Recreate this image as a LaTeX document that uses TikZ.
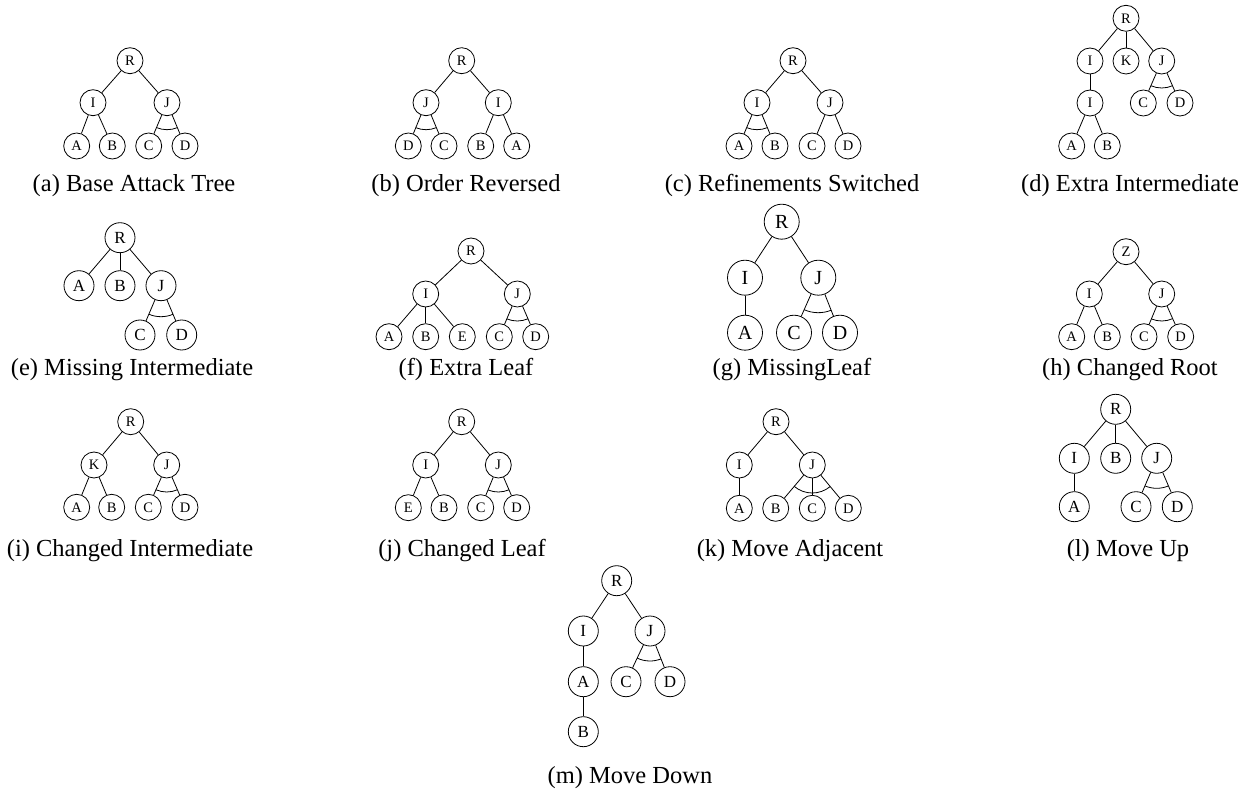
\documentclass[tikz,border=0pt]{standalone}
\usepackage{fontspec}
\setmainfont{Liberation Serif}
\usetikzlibrary{calc}
\tikzset{
  nd/.style={circle, draw, line width=0.8pt, inner sep=0pt, minimum size=26pt, font=\fontsize{14.5}{15}\selectfont},
  ndm/.style={nd, minimum size=30pt, font=\fontsize{17}{18}\selectfont},
  ndl/.style={nd, minimum size=35pt, font=\fontsize{20}{21}\selectfont},
  ln/.style={line width=0.8pt},
  captext/.style={anchor=base, inner sep=0pt, font=\fontsize{24.5}{26}\selectfont},
}
\newcommand\andarc[4]{%
  \draw[ln] let \p1=($(#2)-(#1)$), \p2=($(#3)-(#1)$),
    \n1={atan2(\y1,\x1)}, \n2={atan2(\y2,\x2)} in
    ($(#1)+(\n1:#4)$) arc[start angle=\n1, end angle=\n2, radius=#4];}
\begin{document}
\begin{tikzpicture}[x=1pt,y=-1pt]
\useasboundingbox (0,0) rectangle (1245,791);
% (a)
\node[nd] (aR) at (130,60.7) {R};
\node[nd] (aI) at (93,102.7) {I};
\node[nd] (aJ) at (167,102.7) {J};
\node[nd] (aA) at (76.7,146) {A};
\node[nd] (aB) at (112.3,146) {B};
\node[nd] (aC) at (148.7,146) {C};
\node[nd] (aD) at (185,146) {D};
\draw[ln] (aR) -- (aI); \draw[ln] (aR) -- (aJ);
\draw[ln] (aI) -- (aA); \draw[ln] (aI) -- (aB);
\draw[ln] (aJ) -- (aC); \draw[ln] (aJ) -- (aD);
\andarc{aJ}{aC}{aD}{27pt}
\node[captext] (capa) at (134,192) {(a) Base Attack Tree};
% (b)
\node[nd] (bR) at (461.7,60.7) {R};
\node[nd] (bJ) at (426,102.7) {J};
\node[nd] (bI) at (498.3,102.7) {I};
\node[nd] (bD) at (408.3,146) {D};
\node[nd] (bC) at (444,146) {C};
\node[nd] (bB) at (480.7,146) {B};
\node[nd] (bA) at (516.7,146) {A};
\draw[ln] (bR) -- (bJ); \draw[ln] (bR) -- (bI);
\draw[ln] (bJ) -- (bD); \draw[ln] (bJ) -- (bC);
\draw[ln] (bI) -- (bB); \draw[ln] (bI) -- (bA);
\andarc{bJ}{bD}{bC}{27pt}
\node[captext] (capb) at (466,192) {(b) Order Reversed};
% (c)
\node[nd] (cR) at (793,60.7) {R};
\node[nd] (cI) at (757,102.7) {I};
\node[nd] (cJ) at (830,102.7) {J};
\node[nd] (cA) at (739,146) {A};
\node[nd] (cB) at (775,146) {B};
\node[nd] (cC) at (812,146) {C};
\node[nd] (cD) at (848,146) {D};
\draw[ln] (cR) -- (cI); \draw[ln] (cR) -- (cJ);
\draw[ln] (cI) -- (cA); \draw[ln] (cI) -- (cB);
\draw[ln] (cJ) -- (cC); \draw[ln] (cJ) -- (cD);
\andarc{cI}{cA}{cB}{27pt}
\node[captext] (capc) at (792,192) {(c) Refinements Switched};
% (d)
\node[nd] (dR) at (1126,18.3) {R};
\node[nd] (dI) at (1090,61) {I};
\node[nd] (dK) at (1126,61) {K};
\node[nd] (dJ) at (1161.7,61) {J};
\node[nd] (dI2) at (1090,103) {I};
\node[nd] (dC) at (1143.3,103) {C};
\node[nd] (dD) at (1180,103) {D};
\node[nd] (dA) at (1071.7,146) {A};
\node[nd] (dB) at (1107.3,146) {B};
\draw[ln] (dR) -- (dI); \draw[ln] (dR) -- (dK); \draw[ln] (dR) -- (dJ);
\draw[ln] (dI) -- (dI2);
\draw[ln] (dI2) -- (dA); \draw[ln] (dI2) -- (dB);
\draw[ln] (dJ) -- (dC); \draw[ln] (dJ) -- (dD);
\andarc{dJ}{dC}{dD}{27pt}
\node[captext] (capd) at (1130,192) {(d) Extra Intermediate};
% (e)
\node[ndm] (eR) at (120,237.7) {R};
\node[ndm] (eA) at (79,285.7) {A};
\node[ndm] (eB) at (120,285.7) {B};
\node[ndm] (eJ) at (161,285.7) {J};
\node[ndm] (eC) at (140,335) {C};
\node[ndm] (eD) at (181.7,335) {D};
\draw[ln] (eR) -- (eA); \draw[ln] (eR) -- (eB); \draw[ln] (eR) -- (eJ);
\draw[ln] (eJ) -- (eC); \draw[ln] (eJ) -- (eD);
\andarc{eJ}{eC}{eD}{31pt}
\node[captext] (cape) at (132,376) {(e) Missing Intermediate};
% (f)
\node[nd] (fR) at (471,251) {R};
\node[nd] (fI) at (425.7,294) {I};
\node[nd] (fJ) at (517.3,294) {J};
\node[nd] (fA) at (389,336.7) {A};
\node[nd] (fB) at (425.7,336.7) {B};
\node[nd] (fE) at (462.3,336.7) {E};
\node[nd] (fC) at (499.3,336.7) {C};
\node[nd] (fD) at (535.7,336.7) {D};
\draw[ln] (fR) -- (fI); \draw[ln] (fR) -- (fJ);
\draw[ln] (fI) -- (fA); \draw[ln] (fI) -- (fB); \draw[ln] (fI) -- (fE);
\draw[ln] (fJ) -- (fC); \draw[ln] (fJ) -- (fD);
\andarc{fJ}{fC}{fD}{27pt}
\node[captext] (capf) at (466,376) {(f) Extra Leaf};
% (g)
\node[ndl] (gR) at (781.7,221.7) {R};
\node[ndl] (gI) at (745,277.7) {I};
\node[ndl] (gJ) at (818.3,277.7) {J};
\node[ndl] (gA) at (745,332.7) {A};
\node[ndl] (gC) at (794,332.7) {C};
\node[ndl] (gD) at (840,332.7) {D};
\draw[ln] (gR) -- (gI); \draw[ln] (gR) -- (gJ);
\draw[ln] (gI) -- (gA);
\draw[ln] (gJ) -- (gC); \draw[ln] (gJ) -- (gD);
\andarc{gJ}{gC}{gD}{35pt}
\node[captext] (capg) at (792,376) {(g) MissingLeaf};
% (h)
\node[nd] (hZ) at (1126,251.7) {Z};
\node[nd] (hI) at (1089.3,294) {I};
\node[nd] (hJ) at (1161.7,294) {J};
\node[nd] (hA) at (1071.7,336.7) {A};
\node[nd] (hB) at (1107.3,336.7) {B};
\node[nd] (hC) at (1144,336.7) {C};
\node[nd] (hD) at (1180.7,336.7) {D};
\draw[ln] (hZ) -- (hI); \draw[ln] (hZ) -- (hJ);
\draw[ln] (hI) -- (hA); \draw[ln] (hI) -- (hB);
\draw[ln] (hJ) -- (hC); \draw[ln] (hJ) -- (hD);
\andarc{hJ}{hC}{hD}{27pt}
\node[captext] (caph) at (1130,376) {(h) Changed Root};
% (i)
\node[nd] (iR) at (130.7,421.7) {R};
\node[nd] (iK) at (94,465) {K};
\node[nd] (iJ) at (166.7,465) {J};
\node[nd] (iA) at (76.7,507.3) {A};
\node[nd] (iB) at (111.7,507.3) {B};
\node[nd] (iC) at (148.3,507.3) {C};
\node[nd] (iD) at (185,507.3) {D};
\draw[ln] (iR) -- (iK); \draw[ln] (iR) -- (iJ);
\draw[ln] (iK) -- (iA); \draw[ln] (iK) -- (iB);
\draw[ln] (iJ) -- (iC); \draw[ln] (iJ) -- (iD);
\andarc{iJ}{iC}{iD}{27pt}
\node[captext] (capi) at (130,556) {(i) Changed Intermediate};
% (j)
\node[nd] (jR) at (461.7,421.7) {R};
\node[nd] (jI) at (425.7,465) {I};
\node[nd] (jJ) at (498.3,465) {J};
\node[nd] (jE) at (408.3,507.7) {E};
\node[nd] (jB) at (444,507.7) {B};
\node[nd] (jC) at (480.7,507.7) {C};
\node[nd] (jD) at (516.7,507.7) {D};
\draw[ln] (jR) -- (jI); \draw[ln] (jR) -- (jJ);
\draw[ln] (jI) -- (jE); \draw[ln] (jI) -- (jB);
\draw[ln] (jJ) -- (jC); \draw[ln] (jJ) -- (jD);
\andarc{jJ}{jC}{jD}{27pt}
\node[captext] (capj) at (462,556) {(j) Changed Leaf};
% (k)
\node[nd] (kR) at (776,421.7) {R};
\node[nd] (kI) at (739.3,465) {I};
\node[nd] (kJ) at (812.3,465) {J};
\node[nd] (kA) at (739.3,508.3) {A};
\node[nd] (kB) at (775.7,508.3) {B};
\node[nd] (kC) at (812.3,508.3) {C};
\node[nd] (kD) at (848.3,508.3) {D};
\draw[ln] (kR) -- (kI); \draw[ln] (kR) -- (kJ);
\draw[ln] (kI) -- (kA);
\draw[ln] (kJ) -- (kB); \draw[ln] (kJ) -- (kC); \draw[ln] (kJ) -- (kD);
\andarc{kJ}{kB}{kD}{28pt}
\node[captext] (capk) at (790,556) {(k) Move Adjacent};
% (l)
\node[ndm] (lR) at (1115.7,409.3) {R};
\node[ndm] (lI) at (1074.3,458.3) {I};
\node[ndm] (lB) at (1115.7,458.3) {B};
\node[ndm] (lJ) at (1156.7,458.3) {J};
\node[ndm] (lA) at (1074.3,506.7) {A};
\node[ndm] (lC) at (1136,506.7) {C};
\node[ndm] (lD) at (1177.3,506.7) {D};
\draw[ln] (lR) -- (lI); \draw[ln] (lR) -- (lB); \draw[ln] (lR) -- (lJ);
\draw[ln] (lI) -- (lA);
\draw[ln] (lJ) -- (lC); \draw[ln] (lJ) -- (lD);
\andarc{lJ}{lC}{lD}{30pt}
\node[captext] (capl) at (1128,556) {(l) Move Up};
% (m)
\node[ndm] (mR) at (616.7,580.7) {R};
\node[ndm] (mI) at (583.3,631) {I};
\node[ndm] (mJ) at (650,631) {J};
\node[ndm] (mA) at (583.3,681.7) {A};
\node[ndm] (mC) at (626,681.7) {C};
\node[ndm] (mD) at (670,681.7) {D};
\node[ndm] (mB) at (583.3,731.7) {B};
\draw[ln] (mR) -- (mI); \draw[ln] (mR) -- (mJ);
\draw[ln] (mI) -- (mA); \draw[ln] (mA) -- (mB);
\draw[ln] (mJ) -- (mC); \draw[ln] (mJ) -- (mD);
\andarc{mJ}{mC}{mD}{30pt}
\node[captext] (capm) at (630,783) {(m) Move Down};
\end{tikzpicture}
\end{document}
